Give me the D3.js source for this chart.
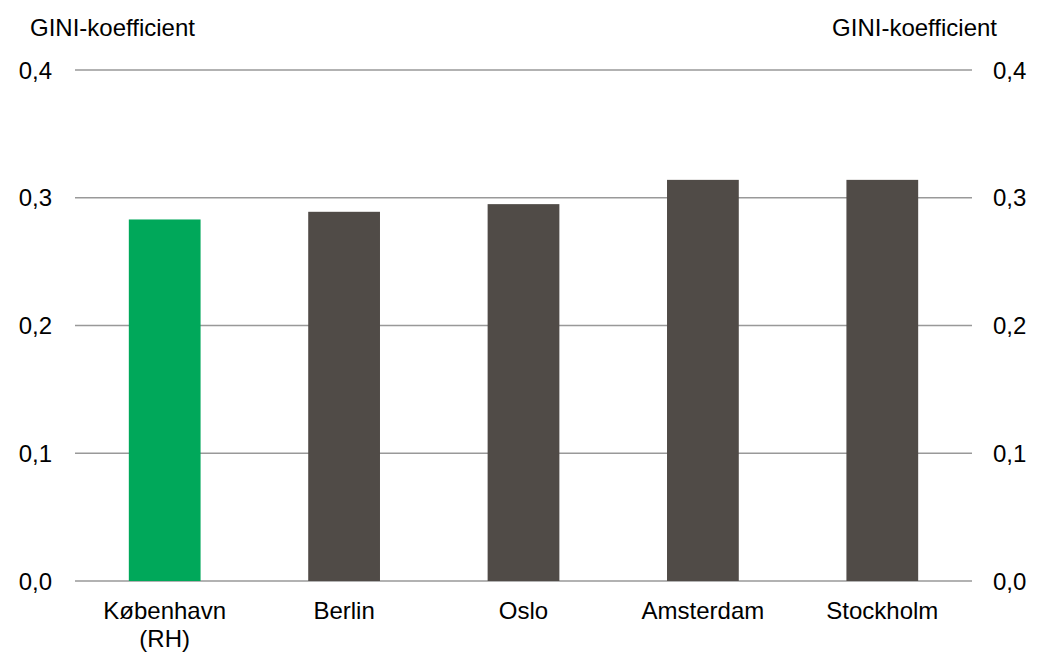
<!DOCTYPE html>
<html>
<head>
<meta charset="utf-8">
<script src="https://cdn.jsdelivr.net/npm/d3@7"></script>
<style>
  html, body { margin: 0; padding: 0; background: #fff; }
  svg { display: block; font-family: "Liberation Sans", Arial, sans-serif; }
</style>
</head>
<body>
<svg id="chart" width="1046" height="653"></svg>
<script>
const categories = ["København\n(RH)", "Berlin", "Oslo", "Amsterdam", "Stockholm"];
const values = [0.283, 0.289, 0.295, 0.314, 0.314];
const barColors = ["#00A85A", "#504B47", "#504B47", "#504B47", "#504B47"];
const yTicks = [0, 0.1, 0.2, 0.3, 0.4];
const axisTitle = "GINI-koefficient";

(function () {
const svg = d3.select("#chart");
const mLeft = 75, mRight = 972, mTop = 70, mBottom = 581;
const fs = 24;

const x = d3.scaleBand().domain(categories).range([mLeft, mRight])
  .paddingInner(0.6).paddingOuter(0.3);
const y = d3.scaleLinear().domain([0, 0.4]).range([mBottom, mTop]);
const fmt = v => d3.format(".1f")(v).replace(".", ",");

// gridlines
svg.append("g").selectAll("line").data(yTicks).join("line")
  .attr("x1", mLeft).attr("x2", mRight)
  .attr("y1", d => y(d)).attr("y2", d => y(d))
  .attr("stroke", "#999").attr("stroke-width", 1.5);

// bars
svg.append("g").selectAll("rect").data(values).join("rect")
  .attr("x", (d, i) => x(categories[i]))
  .attr("width", x.bandwidth())
  .attr("y", d => y(d))
  .attr("height", d => y(0) - y(d))
  .attr("fill", (d, i) => barColors[i]);

// left tick labels
svg.append("g").selectAll("text").data(yTicks).join("text")
  .attr("x", 52).attr("y", d => y(d))
  .attr("dy", "0.36em").attr("text-anchor", "end")
  .attr("font-size", fs).attr("fill", "#000")
  .text(fmt);

// right tick labels
svg.append("g").selectAll("text").data(yTicks).join("text")
  .attr("x", 993).attr("y", d => y(d))
  .attr("dy", "0.36em").attr("text-anchor", "start")
  .attr("font-size", fs).attr("fill", "#000")
  .text(fmt);

// axis titles
svg.append("text").attr("x", 30).attr("y", 36)
  .attr("font-size", fs).attr("fill", "#000")
  .text(axisTitle);
svg.append("text").attr("x", 997).attr("y", 36).attr("text-anchor", "end")
  .attr("font-size", fs).attr("fill", "#000")
  .text(axisTitle);

// category labels
const cl = svg.append("g").selectAll("text").data(categories).join("text")
  .attr("x", d => x(d) + x.bandwidth() / 2)
  .attr("y", 619)
  .attr("text-anchor", "middle")
  .attr("font-size", fs).attr("fill", "#000");
cl.selectAll("tspan").data(d => d.split("\n")).join("tspan")
  .attr("x", function() { return d3.select(this.parentNode).attr("x"); })
  .attr("dy", (d, i) => i === 0 ? 0 : 28)
  .text(d => d);
})();
</script>
</body>
</html>
